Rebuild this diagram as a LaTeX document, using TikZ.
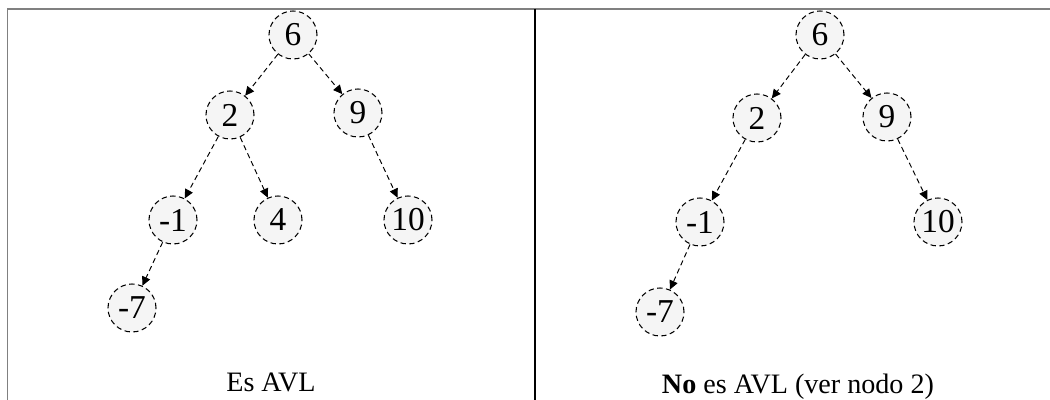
\documentclass[tikz,border=0pt]{standalone}
\usepackage{fontspec}
\setmainfont{Liberation Serif}
\usepackage{tikz}
\usetikzlibrary{arrows.meta}

\begin{document}
\begin{tikzpicture}[
  nodo/.style={circle, draw, densely dashed, line width=0.6pt, fill=gray!8, minimum size=0.96cm, inner sep=0pt, font=\fontsize{19}{22}\selectfont},
  flecha/.style={-{Triangle[length=1.8mm,width=1.7mm]}, densely dashed, line width=0.55pt, black},
  texto/.style={font=\fontsize{16}{19}\selectfont}
]
  \useasboundingbox (0,0) rectangle (21,-8);
  % marco
  \draw[gray, line width=1.1pt] (0.15,-8) -- (0.15,-0.18) -- (21,-0.18);
  \draw[line width=0.8pt] (10.7,-0.18) -- (10.7,-8);

  % arbol izquierdo
  \node[nodo] (l6) at (5.86,-0.70) {6};
  \node[nodo] (l2) at (4.60,-2.30) {2};
  \node[nodo] (l9) at (7.16,-2.26) {9};
  \node[nodo] (lm1) at (3.46,-4.40) {-1};
  \node[nodo] (l4) at (5.56,-4.40) {4};
  \node[nodo] (l10) at (8.16,-4.40) {10};
  \node[nodo] (lm7) at (2.64,-6.16) {-7};
  \node[texto] (lcap) at (5.42,-7.64) {Es AVL};

  \draw[flecha] (l6) -- (l2);
  \draw[flecha] (l6) -- (l9);
  \draw[flecha] (l2) -- (lm1);
  \draw[flecha] (l2) -- (l4);
  \draw[flecha] (l9) -- (l10);
  \draw[flecha] (lm1) -- (lm7);

  % arbol derecho
  \node[nodo] (r6) at (16.40,-0.70) {6};
  \node[nodo] (r2) at (15.14,-2.36) {2};
  \node[nodo] (r9) at (17.74,-2.34) {9};
  \node[nodo] (rm1) at (14.00,-4.44) {-1};
  \node[nodo] (r10) at (18.76,-4.44) {10};
  \node[nodo] (rm7) at (13.20,-6.24) {-7};
  \node[texto] (rcap) at (15.96,-7.74) {\textbf{No} es AVL (ver nodo 2)};

  \draw[flecha] (r6) -- (r2);
  \draw[flecha] (r6) -- (r9);
  \draw[flecha] (r2) -- (rm1);
  \draw[flecha] (r9) -- (r10);
  \draw[flecha] (rm1) -- (rm7);
\end{tikzpicture}
\end{document}
